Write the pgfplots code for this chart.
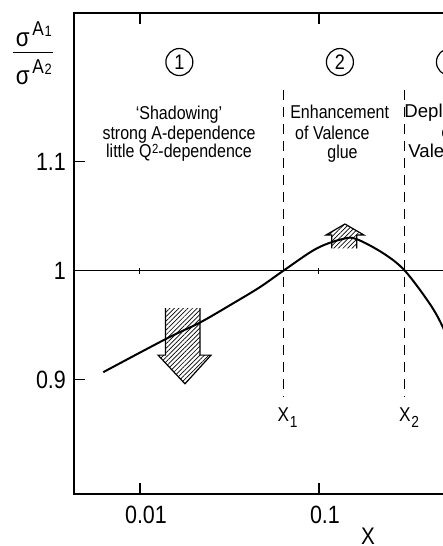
\documentclass[border=0pt]{standalone}
\usepackage{fontspec}
\setmainfont{Liberation Sans}[FakeStretch=0.86]
\newfontfamily\widefont{Liberation Sans}
\usepackage{pgfplots}
\pgfplotsset{compat=1.18}
\usetikzlibrary{patterns.meta}

% sigma^{A_i}
\newcommand{\sigA}[1]{σ\kern1.4pt\raisebox{5.8pt}{\fontsize{10}{11}\selectfont A\kern0.3pt\raisebox{-0.8pt}{\fontsize{7.5}{8}\selectfont #1}}}
\newcommand{\xsub}[1]{X\rlap{\kern0.4pt\raisebox{-3pt}{\fontsize{8}{9}\selectfont #1}}}
\newcommand{\sqr}{\kern0.3pt\raisebox{2.4pt}{\fontsize{6.6}{7}\selectfont 2}}

\begin{document}
\begin{tikzpicture}
\begin{axis}[
  name=main, at={(0pt,0pt)}, anchor=south west,
  scale only axis, width=212pt, height=240.5pt,
  xmode=log, xmin=0.00428, xmax=1, ymin=0.7952, ymax=1.2365,
  xtick={0.01,0.1}, xticklabels={0.01,0.1},
  ytick={0.9,1,1.1}, yticklabels={0.9,1,1.1}, ytick pos=left,
  xminorticks=false, yminorticks=false,
  tick align=inside, major tick length=5.5pt,
  axis line style={line width=0.9pt},
  tick style={line width=0.6pt, black},
  ticklabel style={font=\fontsize{12.5}{14}\selectfont},
  xticklabel style={yshift=-2.4pt, xshift=3pt},
  yticklabel style={xshift=-0.5pt},
  clip=false,
  hatch/.style={draw=none, pattern={Lines[angle=45,distance=1.6pt,line width=0.35pt]}},
]
% reference level
\addplot[line width=0.5pt] coordinates {(0.00428,1) (1,1)};
\draw[line width=0.5pt] (axis cs:0.01,0.997) -- (axis cs:0.01,1.003)
                        (axis cs:0.1,0.997) -- (axis cs:0.1,1.003);

% region boundaries x1, x2
\addplot[line width=0.5pt, dash pattern=on 5pt off 3.5pt] coordinates {(0.0632,1.166) (0.0632,0.884)};
\addplot[line width=0.5pt, dash pattern=on 5pt off 3.5pt] coordinates {(0.302,1.166) (0.302,0.884)};

% shadowing arrow (down)
\addplot[hatch] coordinates {(0.0139,0.9657) (0.02163,0.9657) (0.02163,0.9226) (0.02495,0.9226)
  (0.01784,0.8963) (0.01262,0.9226) (0.0139,0.9226)} -- cycle;
\addplot[line width=0.6pt] coordinates {(0.0139,0.9657) (0.0139,0.9226) (0.01262,0.9226)
  (0.01784,0.8963) (0.02495,0.9226) (0.02163,0.9226) (0.02163,0.9657)};

% enhancement arrow (up)
\addplot[hatch] coordinates {(0.1178,1.0205) (0.1178,1.0328) (0.1094,1.0328) (0.1396,1.0429)
  (0.1783,1.0328) (0.1625,1.0328) (0.1625,1.0205)} -- cycle;
\addplot[line width=0.6pt] coordinates {(0.1178,1.0205) (0.1178,1.0328) (0.1094,1.0328)
  (0.1396,1.0429) (0.1783,1.0328) (0.1625,1.0328) (0.1625,1.0205)};

% ratio curve
\addplot[smooth, tension=0.55, line width=1pt] coordinates {
  (0.00624,0.907) (0.01409,0.9378) (0.02163,0.9525) (0.0332,0.9702) (0.0468,0.985)
  (0.0632,1.000) (0.0971,1.0205) (0.1368,1.0293) (0.1625,1.029) (0.2288,1.016)
  (0.302,1.0) (0.417,0.9694) (0.493,0.948) (0.56,0.925)};

% region numbers
\begin{scope}[every node/.style={circle, draw, line width=0.6pt, minimum size=13.5pt,
    inner sep=0pt, font=\fontsize{10.5}{12}\selectfont}]
\node at (axis cs:0.0166,1.1915) {1};
\node at (axis cs:0.1309,1.1915) {2};
\node at (axis cs:0.539,1.1915) {3};
\end{scope}

% region descriptions
\begin{scope}[every node/.style={inner sep=0pt, font=\fontsize{9.3}{9.5}\selectfont}]
\node[anchor=base] at (axis cs:0.01652,1.139) {`Shadowing'};
\node[anchor=base] at (axis cs:0.01652,1.1205) {strong A-dependence};
\node[anchor=base] at (axis cs:0.01652,1.1035) {little Q\sqr-dependence};
\node[anchor=base] at (axis cs:0.1305,1.140) {Enhancement};
\node[anchor=base] at (axis cs:0.1189,1.1205) {of Valence};
\node[anchor=base] at (axis cs:0.1353,1.103) {glue};
\end{scope}
\begin{scope}[every node/.style={inner sep=0pt, font=\widefont\fontsize{9.3}{9.5}\selectfont}]
\node[anchor=base west] at (axis cs:0.2985,1.141) {Depletion};
\node[anchor=base west] at (axis cs:0.4803,1.1215) {of};
\node[anchor=base west] at (axis cs:0.3142,1.104) {Valence};
\end{scope}

% x1, x2 labels
\node[anchor=base, inner sep=0pt, font=\fontsize{10}{12}\selectfont] at (axis cs:0.0632,0.8618) {\xsub{1}};
\node[anchor=base, inner sep=0pt, font=\fontsize{10}{12}\selectfont] at (axis cs:0.302,0.8618) {\xsub{2}};

% axis titles
\node[inner sep=0pt, font=\fontsize{12}{14}\selectfont] at (axis cs:0.188,0.7952) [yshift=-21pt] {X};
\coordinate (fracbar) at (axis description cs:-0.0967,0.9183);
\draw[line width=0.65pt] ([xshift=-10.15pt]fracbar) -- ([xshift=10.15pt]fracbar);
\node[anchor=base, inner sep=0pt, font=\fontsize{13}{15}\selectfont] at ([yshift=2.8pt,xshift=0.4pt]fracbar) {\sigA{1}};
\node[anchor=base, inner sep=0pt, font=\fontsize{13}{15}\selectfont] at ([yshift=-16.35pt,xshift=0.4pt]fracbar) {\sigA{2}};
\end{axis}
\pgfresetboundingbox
\path[use as bounding box] (-37pt,-26pt) rectangle (184.5pt,247pt);
\end{tikzpicture}
\end{document}
